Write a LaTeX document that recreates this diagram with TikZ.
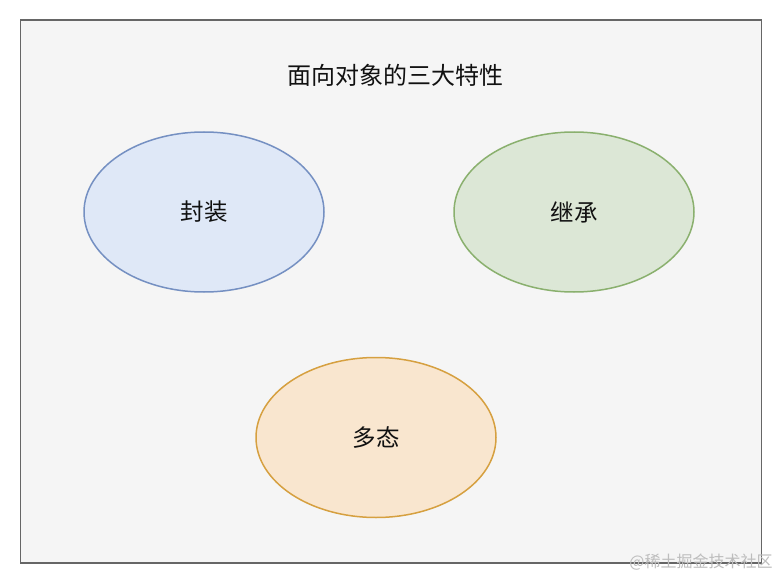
\documentclass[tikz,border=0pt]{standalone}
\usepackage{fontspec}
\setmainfont{Noto Sans CJK SC}
\usetikzlibrary{shapes.geometric}
\definecolor{bgfill}{HTML}{F5F5F5}
\definecolor{bgline}{HTML}{666666}
\definecolor{bluefill}{HTML}{DFE8F7}
\definecolor{blueline}{HTML}{7590C2}
\definecolor{greenfill}{HTML}{DCE7D6}
\definecolor{greenline}{HTML}{8AB06E}
\definecolor{orangefill}{HTML}{F9E6CF}
\definecolor{orangeline}{HTML}{D6A040}
\definecolor{txt}{HTML}{111111}
\definecolor{wm}{HTML}{BDBDBD}
\tikzset{
  oval/.style={ellipse, minimum width=240pt, minimum height=160pt, inner sep=0pt, line width=1.5pt, text=txt, font=\fontsize{23.5}{27}\selectfont},
}
\begin{document}
\begin{tikzpicture}[x=1pt,y=-1pt]
\useasboundingbox (0,0) rectangle (780,578);
\fill[white] (0,0) rectangle (780,578);
\node[draw=bgline, fill=bgfill, line width=1.8pt, minimum width=741pt, minimum height=543pt, inner sep=0pt] (frame) at (391,291.5) {};
\node[text=txt, font=\fontsize{24}{28}\selectfont] (title) at (395,75) {面向对象的三大特性};
\node[oval, draw=blueline, fill=bluefill] (fz) at (204,212) {封装};
\node[oval, draw=greenline, fill=greenfill] (jc) at (574,212) {继承};
\node[oval, draw=orangeline, fill=orangefill] (dt) at (376,437.5) {多态};
\node[text=wm, font=\fontsize{16}{18}\selectfont, inner sep=0pt] (wmk) at (701,562) {@稀土掘金技术社区};
\end{tikzpicture}
\end{document}
